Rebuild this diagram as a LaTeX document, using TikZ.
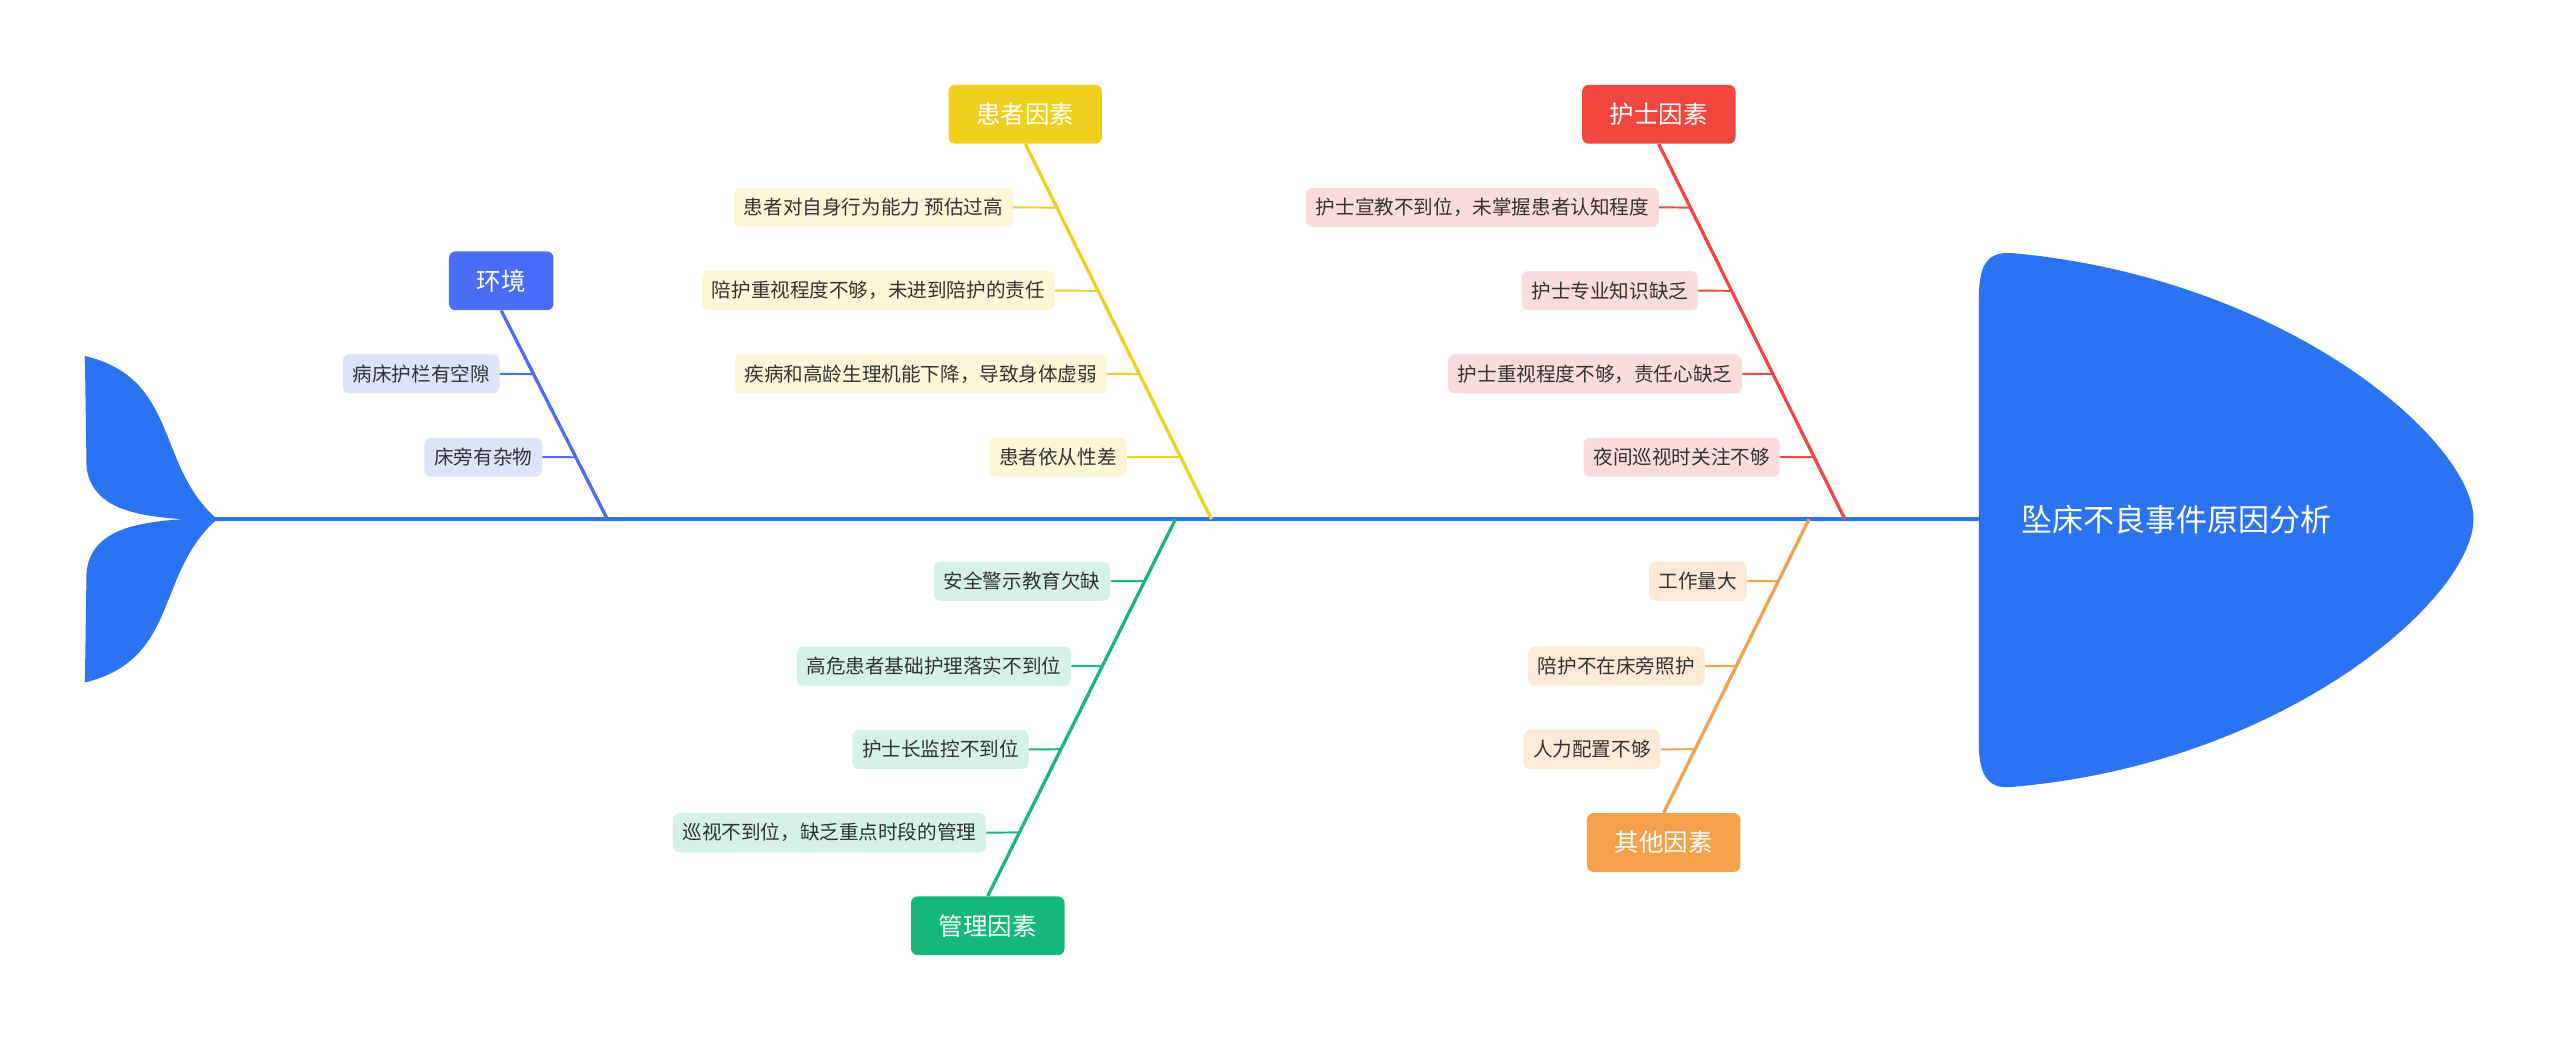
\documentclass[tikz,border=0pt]{standalone}
\usepackage{fontspec}
\setmainfont{Noto Sans CJK SC}
\usetikzlibrary{calc}
\definecolor{fish}{HTML}{2B73F0}
\definecolor{cB}{HTML}{4A6CF7}\definecolor{fB}{HTML}{DCE3FB}
\definecolor{cY}{HTML}{EECF1E}\definecolor{fY}{HTML}{FDF6D6}
\definecolor{cR}{HTML}{F2473F}\definecolor{fR}{HTML}{FBDCDC}
\definecolor{cG}{HTML}{14B87A}\definecolor{fG}{HTML}{D4F2E6}
\definecolor{cO}{HTML}{F5A04A}\definecolor{fO}{HTML}{FDE9D6}
\tikzset{
 cat/.style={rounded corners=4pt,minimum width=94pt,minimum height=36pt,text=white,font=\fontsize{15}{18}\selectfont,inner sep=4pt},
 item/.style={rounded corners=4pt,minimum height=24pt,inner sep=6pt,text=black!80,font=\fontsize{12}{14}\selectfont},
 bone/.style={line width=2pt},
 twig/.style={line width=1.2pt}
}
\begin{document}
\begin{tikzpicture}[x=1pt,y=-1pt]
\useasboundingbox (0,0) rectangle (1568,637);
% spine
\draw[fish,line width=2.5pt] (130,318) -- (1220,318);
% tail
\fill[fish] (52,218) .. controls (110,232) and (95,285) .. (133,318) .. controls (95,351) and (110,404) .. (52,418) -- (53,350) .. controls (56,326) and (80,320) .. (112,318) .. controls (80,316) and (56,310) .. (53,286) -- cycle;
% head
\fill[fish] (1232,155) .. controls (1400,170) and (1515,270) .. (1515,318) .. controls (1515,366) and (1400,468) .. (1232,482) .. controls (1215,484) and (1212,470) .. (1212,455) -- (1212,185) .. controls (1212,165) and (1215,154) .. (1232,155) -- cycle;
\node[text=white,font=\fontsize{19}{22}\selectfont] (head) at (1333,318) {坠床不良事件原因分析};

% 环境
\node[cat,fill=cB,minimum width=64pt] (env) at (307,172) {环境};
\coordinate (envB) at (372,318);
\draw[cB,bone] (env.south) -- (envB);
\node[item,fill=fB] (e1) at (258,229) {病床护栏有空隙};
\node[item,fill=fB] (e2) at (296,280) {床旁有杂物};
\draw[cB,twig] (e1.east) -- ($(env.south)!{(229-190)/128}!(envB)$);
\draw[cB,twig] (e2.east) -- ($(env.south)!{(280-190)/128}!(envB)$);

% 患者因素
\node[cat,fill=cY] (pat) at (628,70) {患者因素};
\coordinate (patB) at (742,318);
\draw[cY,bone] (pat.south) -- (patB);
\node[item,fill=fY] (p1) at (535,127) {患者对自身行为能力 预估过高};
\node[item,fill=fY] (p2) at (538,178) {陪护重视程度不够，未进到陪护的责任};
\node[item,fill=fY] (p3) at (564,229) {疾病和高龄生理机能下降，导致身体虚弱};
\node[item,fill=fY] (p4) at (648,280) {患者依从性差};
\foreach \n/\y in {p1/127,p2/178,p3/229,p4/280}
 \draw[cY,twig] (\n.east) -- ($(pat.south)!{(\y-88)/230}!(patB)$);

% 护士因素
\node[cat,fill=cR] (nur) at (1016,70) {护士因素};
\coordinate (nurB) at (1130,318);
\draw[cR,bone] (nur.south) -- (nurB);
\node[item,fill=fR] (n1) at (908,127) {护士宣教不到位，未掌握患者认知程度};
\node[item,fill=fR] (n2) at (986,178) {护士专业知识缺乏};
\node[item,fill=fR] (n3) at (977,229) {护士重视程度不够，责任心缺乏};
\node[item,fill=fR] (n4) at (1030,280) {夜间巡视时关注不够};
\foreach \n/\y in {n1/127,n2/178,n3/229,n4/280}
 \draw[cR,twig] (\n.east) -- ($(nur.south)!{(\y-88)/230}!(nurB)$);

% 管理因素
\node[cat,fill=cG] (man) at (605,567) {管理因素};
\coordinate (manB) at (720,318);
\draw[cG,bone] (man.north) -- (manB);
\node[item,fill=fG] (m1) at (626,356) {安全警示教育欠缺};
\node[item,fill=fG] (m2) at (572,408) {高危患者基础护理落实不到位};
\node[item,fill=fG] (m3) at (576,459) {护士长监控不到位};
\node[item,fill=fG] (m4) at (508,510) {巡视不到位，缺乏重点时段的管理};
\foreach \n/\y in {m1/356,m2/408,m3/459,m4/510}
 \draw[cG,twig] (\n.east) -- ($(man.north)!{(549-\y)/231}!(manB)$);

% 其他因素
\node[cat,fill=cO] (oth) at (1019,516) {其他因素};
\coordinate (othB) at (1108,318);
\draw[cO,bone] (oth.north) -- (othB);
\node[item,fill=fO] (o1) at (1040,356) {工作量大};
\node[item,fill=fO] (o2) at (990,408) {陪护不在床旁照护};
\node[item,fill=fO] (o3) at (975,459) {人力配置不够};
\foreach \n/\y in {o1/356,o2/408,o3/459}
 \draw[cO,twig] (\n.east) -- ($(oth.north)!{(498-\y)/180}!(othB)$);
\end{tikzpicture}
\end{document}
